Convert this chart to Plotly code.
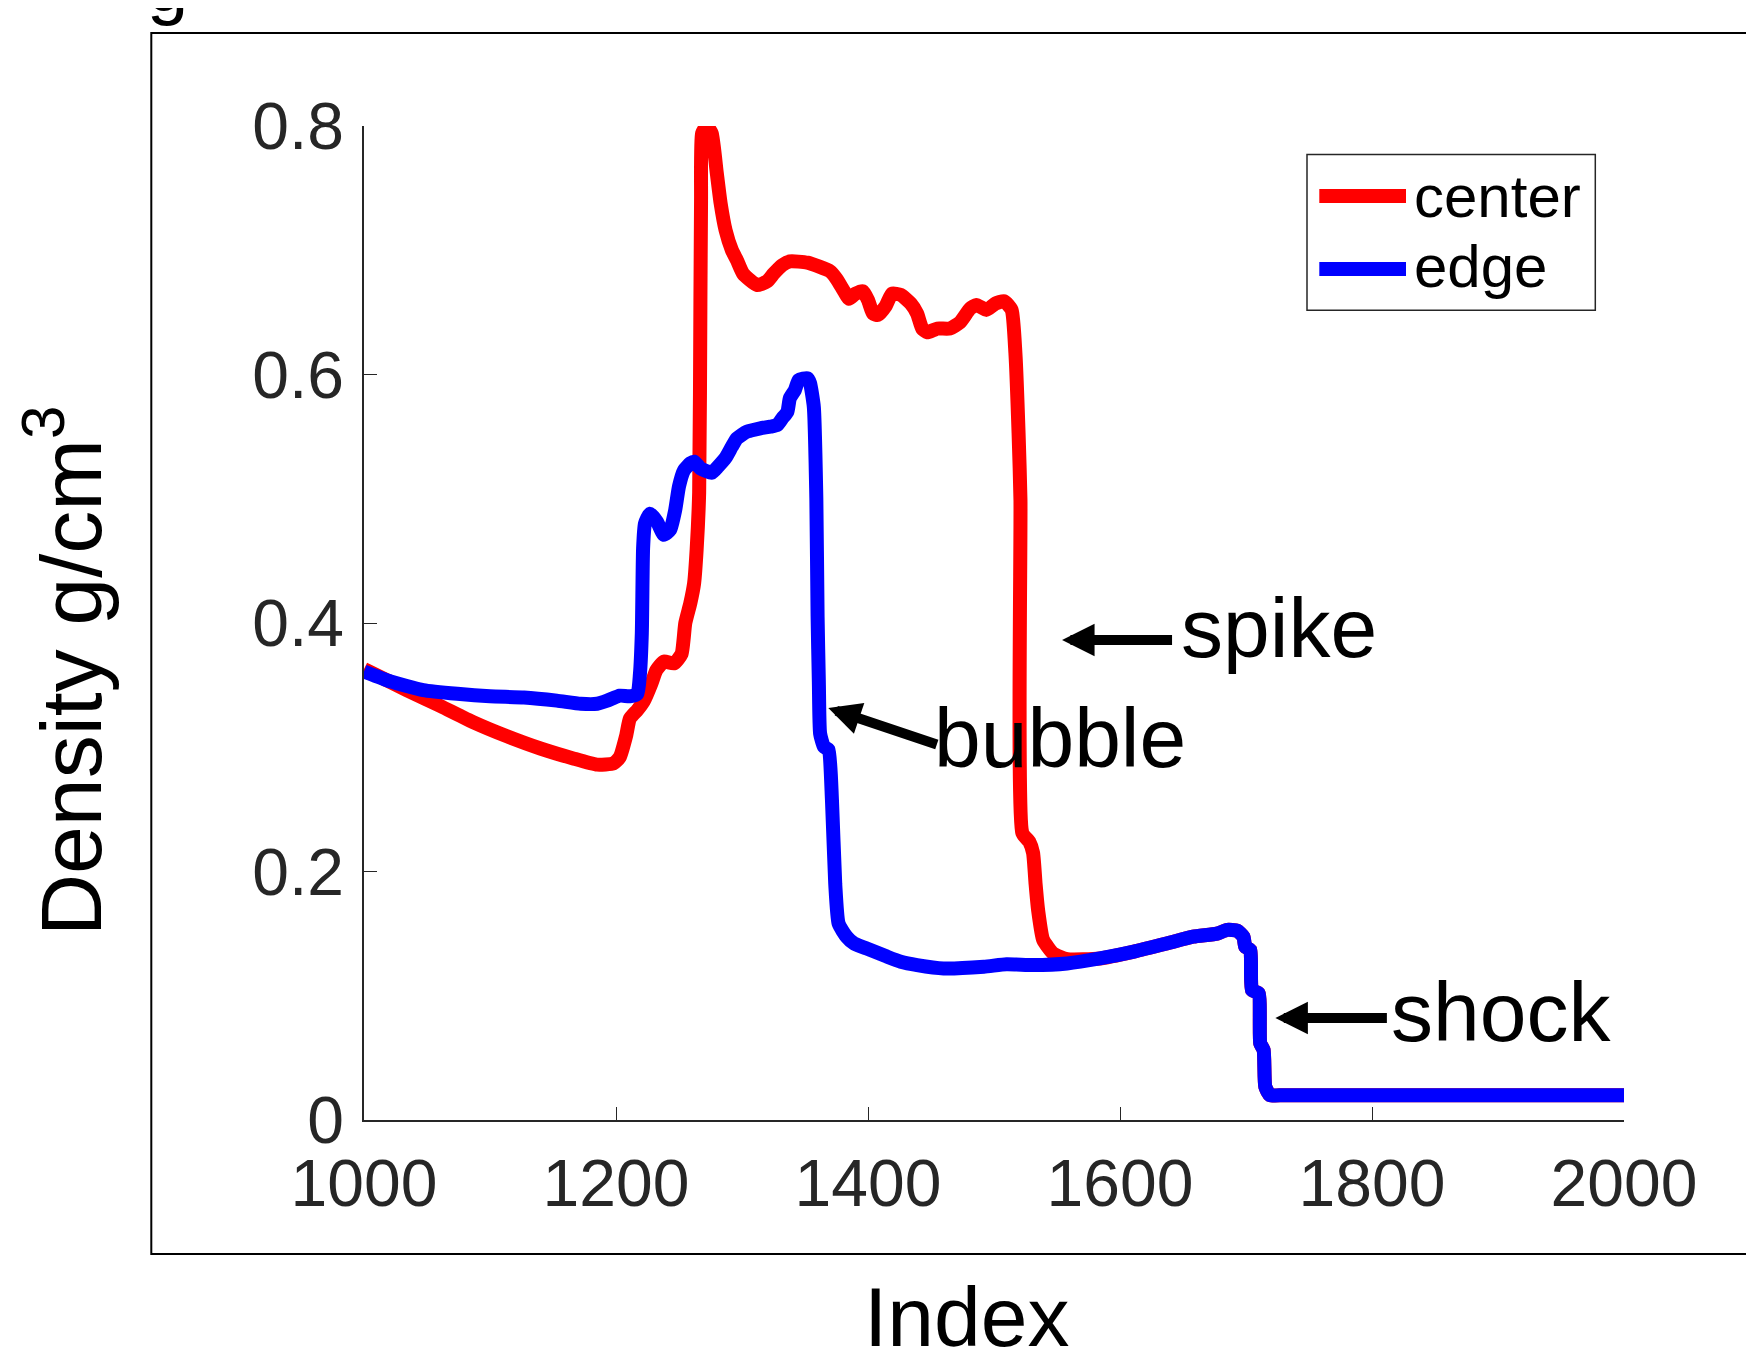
import plotly.graph_objects as go

# ---- data ----
center_index = [1000, 1034, 1061, 1087, 1113, 1140, 1166, 1185, 1198, 1203, 1208, 1211, 1217, 1222,
                1228, 1232, 1238, 1246, 1252, 1255, 1259, 1262, 1264, 1266, 1267, 1267.5, 1268.3, 1272,
                1276, 1280, 1283, 1287, 1292, 1296, 1301, 1312, 1320, 1325, 1332, 1338, 1352, 1370,
                1375, 1381, 1385, 1390, 1396, 1400, 1404, 1408, 1414, 1419, 1426, 1434, 1439, 1443,
                1447, 1455, 1465, 1473, 1481, 1486, 1494, 1501, 1508, 1514, 1517, 1519.5, 1521, 1522.5,
                1528, 1531, 1533, 1535, 1539, 1547, 1558, 1584, 1611, 1637, 1658, 1677, 1685, 1693,
                1698, 1699.4, 1703.4, 1704.7, 1710, 1711.3, 1714, 1715.3, 1719, 1730, 1800, 1900, 2000]
center_density = [0.363, 0.346, 0.333, 0.320, 0.309, 0.299, 0.291, 0.286, 0.287, 0.292, 0.309, 0.323,
                  0.330, 0.337, 0.351, 0.362, 0.369, 0.3675, 0.375, 0.400, 0.416, 0.432, 0.459, 0.505,
                  0.660, 0.740, 0.794, 0.800, 0.794, 0.762, 0.738, 0.716, 0.700, 0.692, 0.681, 0.672,
                  0.675, 0.681, 0.688, 0.691, 0.690, 0.683, 0.677, 0.667, 0.661, 0.665, 0.667, 0.660,
                  0.649, 0.648, 0.655, 0.665, 0.664, 0.657, 0.649, 0.637, 0.634, 0.637, 0.637, 0.642,
                  0.653, 0.656, 0.652, 0.657, 0.659, 0.652, 0.617, 0.553, 0.499, 0.231, 0.224, 0.215,
                  0.190, 0.169, 0.145, 0.134, 0.1295, 0.130, 0.1355, 0.142, 0.1475, 0.150, 0.153,
                  0.1524, 0.1475, 0.1395, 0.1368, 0.1046, 0.102, 0.0617, 0.0563, 0.0268, 0.020,
                  0.020, 0.020, 0.020, 0.020]

edge_index = [1000, 1021, 1047, 1074, 1100, 1127, 1153, 1172, 1185, 1193, 1203, 1211, 1217, 1219,
              1220.5, 1221.5, 1223, 1227, 1232.5, 1238, 1243, 1247, 1250, 1254, 1259, 1262, 1267,
              1276, 1281, 1287, 1292, 1296, 1304, 1314.5, 1322.5, 1328, 1332, 1336, 1338, 1342, 1345,
              1352, 1354, 1357, 1359, 1360, 1361, 1362, 1365, 1368.7, 1371.4, 1374, 1376.7, 1383, 1389,
              1399, 1415, 1426, 1439, 1460, 1492, 1510, 1531, 1558, 1584, 1611, 1637, 1658, 1677,
              1685, 1693, 1698, 1699.4, 1703.4, 1704.7, 1710, 1711.3, 1714, 1715.3, 1719, 1730, 1800,
              1900, 2000]
edge_density = [0.361, 0.353, 0.346, 0.343, 0.341, 0.340, 0.3375, 0.335, 0.335, 0.3375, 0.3415, 0.341,
                0.343, 0.359, 0.392, 0.460, 0.480, 0.488, 0.4816, 0.471, 0.475, 0.491, 0.510, 0.523,
                0.5285, 0.5298, 0.5245, 0.521, 0.526, 0.533, 0.542, 0.5486, 0.554, 0.5567, 0.558,
                0.5594, 0.5648, 0.570, 0.581, 0.5875, 0.5956, 0.597, 0.593, 0.574, 0.500, 0.405, 0.352,
                0.311, 0.3005, 0.298, 0.2575, 0.190, 0.158, 0.1475, 0.142, 0.138, 0.1315, 0.1274,
                0.1247, 0.122, 0.1234, 0.1253, 0.1247, 0.126, 0.130, 0.1355, 0.142, 0.1475, 0.150,
                0.153, 0.1524, 0.1475, 0.1395, 0.1368, 0.1046, 0.102, 0.0617, 0.0563, 0.0268, 0.020,
                0.020, 0.020, 0.020, 0.020]

x_ticks = [1000, 1200, 1400, 1600, 1800, 2000]
y_ticks = [0, 0.2, 0.4, 0.6, 0.8]
y_tick_labels = ["0", "0.2", "0.4", "0.6", "0.8"]
series_names = ["center", "edge"]
series_colors = ["#ff0000", "#0000ff"]

# annotations: (label, tip x, tip y, tail x, tail y, text x, text y-bottom)
notes = [
    ("spike", 1554.0, 0.3863, 1642.5, 0.3863, 1647.9, 0.3575),
    ("bubble", 1368.5, 0.3316, 1455.8, 0.3018, 1451.8, 0.2690),
    ("shock", 1723.3, 0.0821, 1813.0, 0.0821, 1814.5, 0.0479),
]

FONT = "Liberation Sans, Arial, Helvetica, sans-serif"
AX = "#262626"

fig = go.Figure()
fig.add_trace(go.Scatter(x=center_index, y=center_density, mode="lines", name=series_names[0],
                         line=dict(color=series_colors[0], width=14, shape="spline", smoothing=0.5),
                         showlegend=False))
fig.add_trace(go.Scatter(x=edge_index, y=edge_density, mode="lines", name=series_names[1],
                         line=dict(color=series_colors[1], width=14, shape="spline", smoothing=0.5),
                         showlegend=False))

W, H = 1754, 1347
OFF = 8  # page offset of the figure inside the browser page
PW, PH = 1260.0, 993.6
L = 363.7 - OFF
T = 126.4 - OFF
R = W - L - PW
B = H - T - PH


def px(xp):
    return (xp - OFF - L) / PW


def py(yp):
    return (H - B - (yp - OFF)) / PH


annotations = []
shapes = []

for label, tx, ty, ax_, ay_, lx, ly in notes:
    annotations.append(dict(x=tx, y=ty, ax=ax_, ay=ay_, xref="x", yref="y", axref="x", ayref="y",
                            text="", showarrow=True, arrowhead=2, arrowsize=0.65, arrowwidth=10,
                            arrowcolor="black", standoff=0))
    annotations.append(dict(x=lx, y=ly, xref="x", yref="y", text=label, showarrow=False,
                            xanchor="left", yanchor="bottom", borderpad=0,
                            font=dict(family=FONT, size=84, color="black")))

# axis titles
annotations.append(dict(x=px(966.5), y=py(1269), xref="paper", yref="paper", text="Index",
                        showarrow=False, xanchor="center", yanchor="top", borderpad=0,
                        font=dict(family=FONT, size=84, color="black")))
annotations.append(dict(x=px(64), y=py(671), xref="paper", yref="paper",
                        text="Density g/cm<sup>3</sup>", textangle=-90,
                        showarrow=False, xanchor="center", yanchor="middle", borderpad=0,
                        font=dict(family=FONT, size=86, color="black")))
# cropped title at the very top
annotations.append(dict(x=px(146), y=py(28), xref="paper", yref="paper", text="g",
                        showarrow=False, xanchor="left", yanchor="bottom", borderpad=0,
                        font=dict(family=FONT, size=74, color="black")))

# legend (box, samples, labels)
shapes.append(dict(type="rect", xref="paper", yref="paper", x0=px(1306.7), x1=px(1595),
                   y0=py(310.7), y1=py(155), line=dict(color=AX, width=1.5), fillcolor="white"))
leg_rows = [(196.3, 231.5), (269.3, 301.5)]
for (ly, tb), name, col in zip(leg_rows, series_names, series_colors):
    shapes.append(dict(type="line", xref="paper", yref="paper", x0=px(1319), x1=px(1405.7),
                       y0=py(ly), y1=py(ly), line=dict(color=col, width=14)))
    annotations.append(dict(x=px(1413), y=py(tb), xref="paper", yref="paper", text=name,
                            showarrow=False, xanchor="left", yanchor="bottom", borderpad=0,
                            font=dict(family=FONT, size=60, color="black")))

# outer figure frame
shapes.append(dict(type="rect", xref="paper", yref="paper", x0=px(151), x1=px(1800),
                   y0=py(1254), y1=py(33.5), line=dict(color="black", width=2), layer="below"))

fig.update_layout(
    width=W, height=H, autosize=False,
    margin=dict(l=L, r=R, t=T, b=B, pad=0),
    paper_bgcolor="white", plot_bgcolor="white",
    annotations=annotations, shapes=shapes,
    xaxis=dict(range=[1000, 2000], tickvals=x_ticks, ticks="inside", ticklen=13, tickwidth=1,
               tickcolor=AX, showline=True, linecolor=AX, linewidth=1.5, showgrid=False,
               zeroline=False, tickfont=dict(family=FONT, size=66, color=AX),
               ticklabelstandoff=5),
    yaxis=dict(range=[0, 0.8], tickvals=y_ticks, ticktext=y_tick_labels, ticks="inside",
               ticklen=13, tickwidth=1, tickcolor=AX, showline=True, linecolor=AX, linewidth=1.5,
               showgrid=False, zeroline=False, tickfont=dict(family=FONT, size=66, color=AX),
               ticklabelstandoff=5),
)

fig.write_html("out.html")
